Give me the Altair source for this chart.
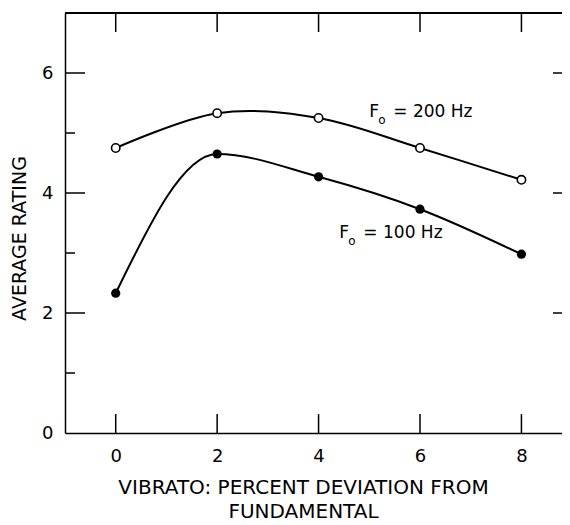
import altair as alt
import pandas as pd

# ---- data ----
x_vals = [0, 2, 4, 6, 8]
f200 = [4.75, 5.33, 5.25, 4.75, 4.22]
f100 = [2.33, 4.65, 4.27, 3.73, 2.98]

label_x = [5.0, 4.41]
label_y = [5.35, 3.33]
label_text = ["= 200 Hz", "= 100 Hz"]

x_ticks = [0, 2, 4, 6, 8]
y_labels = [0, 2, 4, 6]
y_major = [2, 4, 6]
y_minor = [1, 3, 5]

W, H = 497, 420
FONT = "DejaVu Sans"

df200 = pd.DataFrame({"x": x_vals, "y": f200})
df100 = pd.DataFrame({"x": x_vals, "y": f100})
dflab = pd.DataFrame({"x": label_x, "y": label_y, "t": label_text})
dfxt = pd.DataFrame({"x": x_ticks})
dfmaj = pd.DataFrame({"y": y_major})
dfmin = pd.DataFrame({"y": y_minor})

xs = alt.Scale(domain=[-1, 8.8], nice=False, zero=False)
ys = alt.Scale(domain=[0, 7], nice=False, zero=False)

xax = alt.Axis(values=x_ticks, ticks=False, domain=True, domainColor="black", domainWidth=1.5,
               grid=False,
               labelFontSize=18, labelFont=FONT, labelColor="black",
               labelPadding=14, labelFlush=False,
               title=["VIBRATO: PERCENT DEVIATION FROM", "FUNDAMENTAL"],
               titleFont=FONT, titleFontSize=20, titleFontWeight="normal",
               titleColor="black", titleX=238, titleY=44, titleAlign="center",
               titleBaseline="top", titleLineHeight=24)
yax = alt.Axis(values=y_labels, ticks=False, domain=True, domainColor="black", domainWidth=1.5,
               grid=False,
               labelFontSize=18, labelFont=FONT, labelColor="black",
               labelPadding=12, labelFlush=False,
               title="AVERAGE RATING", titleFont=FONT, titleFontSize=19,
               titleFontWeight="normal", titleColor="black",
               titleX=-46, titleY=225, titleAngle=270, titleAlign="center",
               titleBaseline="middle")

def X():
    return alt.X("x:Q", scale=xs, axis=xax)

def Y():
    return alt.Y("y:Q", scale=ys, axis=yax)

line200 = alt.Chart(df200).mark_line(interpolate="cardinal", color="black", strokeWidth=2).encode(
    x=X(), y=Y())
line100 = alt.Chart(df100).mark_line(interpolate="monotone", color="black", strokeWidth=2).encode(
    x=X(), y=Y())
pts200 = alt.Chart(df200).mark_point(shape="circle", filled=True, fill="white", stroke="black",
                                     strokeWidth=1.6, size=70, opacity=1).encode(x=X(), y=Y())
pts100 = alt.Chart(df100).mark_circle(color="black", size=85, opacity=1).encode(x=X(), y=Y())

tick_style = dict(color="black", strokeWidth=1.5)
top_line = alt.Chart(dfxt).mark_rule(**tick_style).encode(
    x=alt.value(0), x2=alt.value(W + 10), y=alt.value(0))
bot_ticks = alt.Chart(dfxt).mark_rule(**tick_style).encode(x=X(), y=alt.value(H), y2=alt.value(H - 19))
top_ticks = alt.Chart(dfxt).mark_rule(**tick_style).encode(x=X(), y=alt.value(0), y2=alt.value(19))
left_maj = alt.Chart(dfmaj).mark_rule(**tick_style).encode(y=Y(), x=alt.value(0), x2=alt.value(20))
left_min = alt.Chart(dfmin).mark_rule(**tick_style).encode(y=Y(), x=alt.value(0), x2=alt.value(10))
right_maj = alt.Chart(dfmaj).mark_rule(**tick_style).encode(y=Y(), x=alt.value(W + 11), x2=alt.value(W - 9))

lab_F = alt.Chart(dflab).mark_text(text="F", align="left", baseline="middle", font=FONT,
                                   fontSize=17, color="black").encode(x=X(), y=Y())
lab_o = alt.Chart(dflab).mark_text(text="o", align="left", baseline="middle", font=FONT,
                                   fontSize=12, dx=9, dy=8, color="black").encode(x=X(), y=Y())
lab_t = alt.Chart(dflab).mark_text(align="left", baseline="middle", font=FONT,
                                   fontSize=17, dx=24, color="black").encode(x=X(), y=Y(), text="t:N")

chart = alt.layer(
    line200, line100, pts200, pts100, top_line, bot_ticks, top_ticks, left_maj, left_min,
    right_maj, lab_F, lab_o, lab_t
).properties(
    width=W, height=H,
    autosize=alt.AutoSizeParams(type="none"),
    padding={"left": 57, "top": 5, "right": 0, "bottom": 92},
).configure_view(stroke=None)

chart.save("out.html", embed_options={"renderer": "svg", "actions": False})
